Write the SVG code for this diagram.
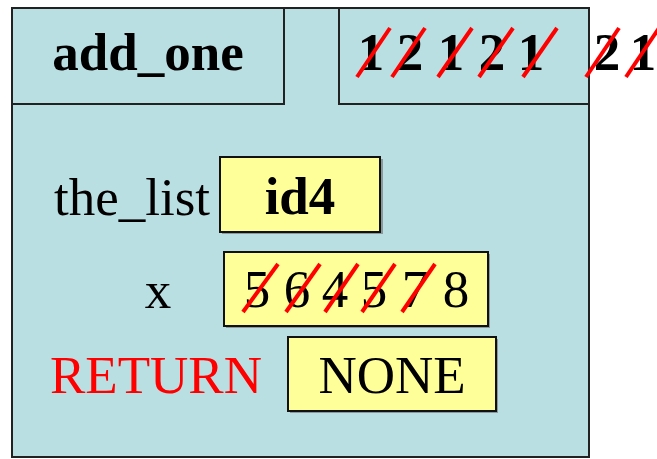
<svg xmlns="http://www.w3.org/2000/svg" width="657" height="459" viewBox="0 0 657 459">
<style>
.frame{fill:#B9DFE3;stroke:#222;stroke-width:2}
.val{fill:#FFFF99;stroke:#111;stroke-width:2}
.shadow{fill:#8a9a9c}
.t{font-family:"Liberation Serif","Times New Roman",serif;font-size:53px;fill:#000}
.b{font-weight:bold}
.m{text-anchor:middle}
.red{fill:#FF0000}
.strike{stroke:#FF0000;stroke-width:4;stroke-linecap:butt}
</style>
<g id="frame">
<rect class="frame" x="12" y="8" width="577" height="449"/>
</g>
<g id="name-box">
<rect class="frame" x="12" y="8" width="272" height="96"/>
<text class="t b m" x="148" y="70">add_one</text>
</g>
<g id="counter-box">
<rect class="frame" x="339" y="8" width="250" height="96"/>
<text class="t b m" x="371" y="70">1</text>
<text class="t b m" x="410" y="70">2</text>
<text class="t b m" x="451" y="70">1</text>
<text class="t b m" x="492" y="70">2</text>
<text class="t b m" x="531" y="70">1</text>
<text class="t b m" x="607" y="70">2</text>
<text class="t b m" x="643" y="70">1</text>
<line class="strike" x1="357" y1="77" x2="390" y2="28"/>
<line class="strike" x1="392" y1="77" x2="425" y2="28"/>
<line class="strike" x1="438" y1="77" x2="472" y2="28"/>
<line class="strike" x1="479" y1="77" x2="513" y2="28"/>
<line class="strike" x1="523" y1="77" x2="557" y2="28"/>
<line class="strike" x1="586" y1="77" x2="619" y2="28"/>
<line class="strike" x1="626" y1="77" x2="659" y2="28"/>
</g>
<g id="the_list">
<text class="t" x="54" y="215">the_list</text>
<rect class="shadow" x="222" y="159" width="161" height="75"/>
<rect class="val" x="220" y="157" width="160" height="75"/>
<text class="t b m" x="300" y="214">id4</text>
</g>
<g id="x">
<text class="t m" x="158" y="308">x</text>
<rect class="shadow" x="226" y="254" width="264" height="74"/>
<rect class="val" x="224" y="252" width="264" height="74"/>
<text class="t m" x="257" y="307">5</text>
<text class="t m" x="297" y="307">6</text>
<text class="t m" x="335" y="307">4</text>
<text class="t m" x="374" y="307">5</text>
<text class="t m" x="415" y="307">7</text>
<text class="t m" x="456" y="307">8</text>
<line class="strike" x1="243" y1="312" x2="278" y2="264"/>
<line class="strike" x1="286" y1="312" x2="320" y2="264"/>
<line class="strike" x1="325" y1="312" x2="358" y2="264"/>
<line class="strike" x1="362" y1="312" x2="395" y2="264"/>
<line class="strike" x1="402" y1="312" x2="435" y2="264"/>
</g>
<g id="return">
<text class="t red" x="50" y="393">RETURN</text>
<rect class="shadow" x="290" y="339" width="208" height="74"/>
<rect class="val" x="288" y="337" width="208" height="74"/>
<text class="t m" x="392" y="393">NONE</text>
</g>
</svg>
